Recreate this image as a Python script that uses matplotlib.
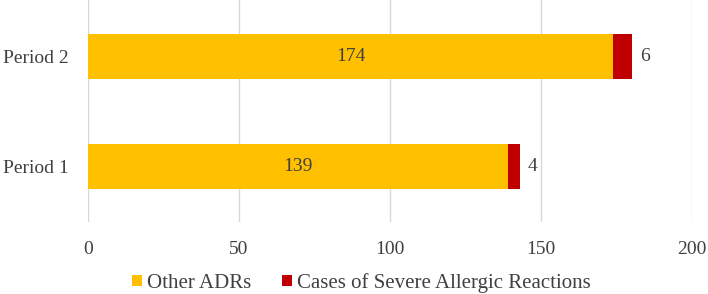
import numpy as np
import matplotlib.pyplot as plt

plt.rcParams['font.family'] = ['Liberation Serif', 'DejaVu Serif']

periods = ['Period 1', 'Period 2']
other_adrs = [139, 174]
severe = [4, 6]
ticks = [0, 50, 100, 150, 200]

gold = '#FFC000'
red = '#C00000'
txt = '#404040'

fig = plt.figure(figsize=(7.08, 2.94), dpi=100)
ax = fig.add_axes([88/708, 1 - 222/294, 604/708, 222/294])

y = np.arange(len(periods))
b1 = ax.barh(y, other_adrs, height=0.41, color=gold, label='Other ADRs', zorder=2)
b2 = ax.barh(y, severe, left=other_adrs, height=0.41, color=red,
             label='Cases of Severe Allergic Reactions', zorder=2)

for i in range(len(periods)):
    ax.text(other_adrs[i] / 2, y[i], str(other_adrs[i]), ha='center', va='center',
            fontsize=14, color=txt)
    ax.text(other_adrs[i] + severe[i] + 2.7, y[i], str(severe[i]), ha='left', va='center',
            fontsize=14, color=txt)

ax.set_xlim(0, 200)
ax.set_ylim(-0.5, 1.51)
ax.set_xticks(ticks)
ax.set_yticks(y)
ax.set_yticklabels(periods)
ax.tick_params(length=0, labelsize=14, colors=txt)
ax.tick_params(axis='x', pad=14)
ax.tick_params(axis='y', pad=14)
ax.xaxis.grid(True, color='#d9d9d9', linewidth=1, zorder=0)
for s in ax.spines.values():
    s.set_visible(False)

fig.legend(handles=[b1, b2], loc='center', bbox_to_anchor=(0.5106, 1 - 283/294),
           ncol=2, frameon=False, fontsize=15, handlelength=0.48, handleheight=0.48,
           handletextpad=0.25, columnspacing=1.45, labelcolor=txt,
           borderpad=0, borderaxespad=0)

fig.savefig('out.png', dpi=100)
